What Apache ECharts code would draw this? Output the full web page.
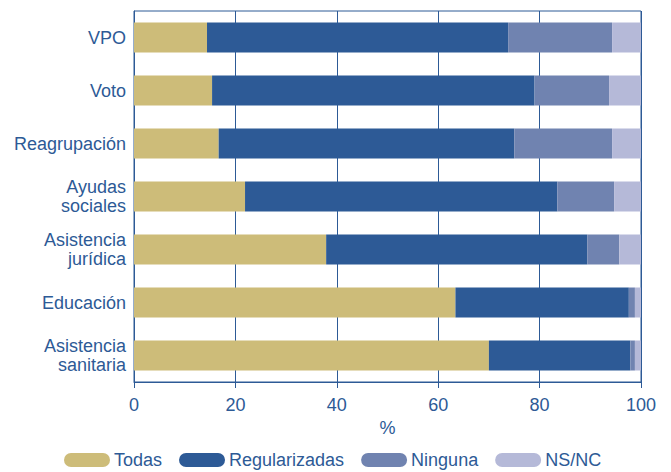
<!DOCTYPE html>
<html>
<head>
<meta charset="utf-8">
<script src="https://cdn.jsdelivr.net/npm/echarts@6/dist/echarts.min.js"></script>
<style>
  html, body { margin: 0; padding: 0; background: #fff; }
  #chart { width: 671px; height: 472px; }
</style>
</head>
<body>
<div id="chart"></div>
<script>
(function() {
  var categories = ['VPO', 'Voto', 'Reagrupación', 'Ayudas\nsociales', 'Asistencia\njurídica', 'Educación', 'Asistencia\nsanitaria'];
  var todas = [14.4, 15.4, 16.7, 21.9, 37.9, 63.4, 70.0];
  var regularizadas = [59.4, 63.6, 58.3, 61.6, 51.5, 34.2, 27.9];
  var ninguna = [20.5, 14.7, 19.3, 11.2, 6.3, 1.2, 0.9];
  var nsnc = [5.7, 6.3, 5.7, 5.3, 4.3, 1.2, 1.2];
  var xTicks = [0, 20, 40, 60, 80, 100];

  var ink = '#2d5a96';
  var font = 'Liberation Sans';
  // pill shaped legend marker
  var pill = 'path://M7,0 L39,0 A7,7 0 0 1 39,14 L7,14 A7,7 0 0 1 7,0 Z';

  var chart = echarts.init(document.getElementById('chart'), null, { renderer: 'svg' });

  function bar(name, data, color) {
    return {
      name: name,
      type: 'bar',
      stack: 'total',
      barWidth: 30,
      data: data,
      itemStyle: { color: color },
      emphasis: { disabled: true }
    };
  }

  chart.setOption({
    animation: false,
    textStyle: { fontFamily: font },
    grid: {
      left: 134, right: 30, top: 11, bottom: 90,
      show: true, borderColor: ink, borderWidth: 1
    },
    legend: {
      top: 451,
      left: 64,
      padding: 0,
      itemWidth: 46,
      itemHeight: 14,
      itemGap: 17,
      icon: pill,
      textStyle: { color: ink, fontSize: 18, lineHeight: 18, fontFamily: font, padding: [0, 0, 0, -1] },
      data: ['Todas', 'Regularizadas', 'Ninguna', 'NS/NC']
    },
    xAxis: {
      type: 'value',
      min: xTicks[0],
      max: xTicks[xTicks.length - 1],
      interval: 20,
      name: '%',
      nameLocation: 'middle',
      nameGap: 36,
      nameTextStyle: { color: ink, fontSize: 18 },
      axisLine: { show: true, lineStyle: { color: ink, width: 1 } },
      axisTick: { show: true, length: 6, lineStyle: { color: ink } },
      axisLabel: { color: ink, fontSize: 18, margin: 14 },
      splitLine: { show: true, lineStyle: { color: ink, width: 1 } }
    },
    yAxis: {
      type: 'category',
      inverse: true,
      data: categories,
      axisLine: { show: true, lineStyle: { color: ink, width: 1 } },
      axisTick: { show: false },
      axisLabel: { color: ink, fontSize: 18, margin: 8, lineHeight: 19 }
    },
    series: [
      bar('Todas', todas, '#cdbc79'),
      bar('Regularizadas', regularizadas, '#2d5a96'),
      bar('Ninguna', ninguna, '#7083b0'),
      bar('NS/NC', nsnc, '#b5b9d8')
    ]
  });

  window.addEventListener('resize', function() { chart.resize(); });
})();
</script>
</body>
</html>
